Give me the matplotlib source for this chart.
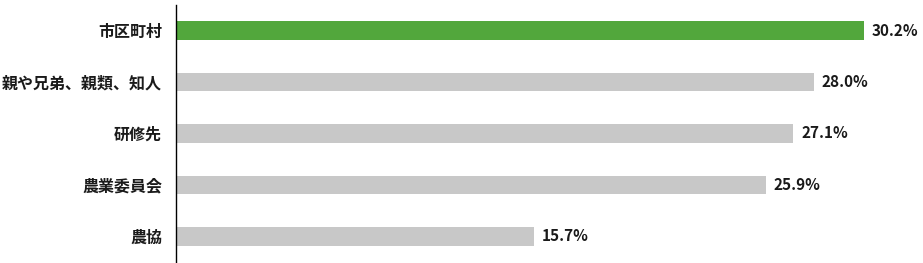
import matplotlib
matplotlib.use("Agg")
import matplotlib.pyplot as plt

plt.rcParams['font.family'] = ['Noto Sans CJK JP', 'DejaVu Sans']

categories = ["市区町村", "親や兄弟、親類、知人", "研修先", "農業委員会", "農協"]
values = [30.2, 28.0, 27.1, 25.9, 15.7]
colors = ["#52a73c", "#c8c8c8", "#c8c8c8", "#c8c8c8", "#c8c8c8"]

W, H = 923, 263
fig = plt.figure(figsize=(W / 100, H / 100), dpi=100)
left, right, top, bottom = 176, 900, 5, 262
ax = fig.add_axes([left / W, 1 - bottom / H, (right - left) / W, (bottom - top) / H])

ypos = list(range(len(categories)))
ax.barh(ypos, values, height=0.36, color=colors, zorder=2)
ax.set_ylim(4.5, -0.5)
ax.set_xlim(0, (right - left) / 22.78)

for y, v in zip(ypos, values):
    ax.text(v + 0.35, y, f"{v:.1f}%", va="center", ha="left", fontsize=11,
            fontweight="bold", color="#1a1a1a")

ax.set_yticks(ypos)
ax.set_yticklabels(categories, fontsize=11.5, fontweight="bold", color="#1a1a1a")
ax.tick_params(axis="y", length=0, pad=10)
ax.set_xticks([])
for s in ["top", "right", "bottom"]:
    ax.spines[s].set_visible(False)
ax.spines["left"].set_color("#000000")
ax.spines["left"].set_linewidth(1.0)
ax.spines["left"].set_zorder(3)

fig.savefig("out.png", dpi=100)
